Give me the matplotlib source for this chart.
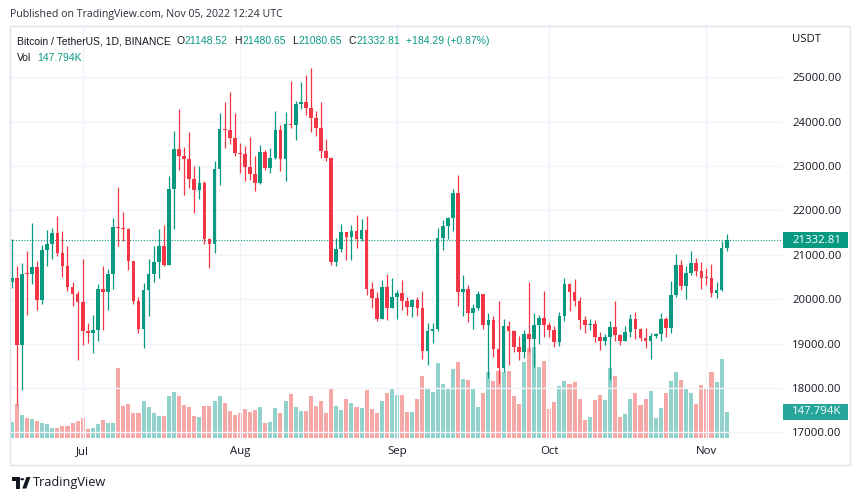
import matplotlib
matplotlib.use("Agg")
import matplotlib.pyplot as plt
import matplotlib.transforms as mtransforms
from matplotlib.patches import Rectangle, Polygon, Circle
import pandas as pd

plt.rcParams['font.family'] = ['Open Sans', 'DejaVu Sans']

# ---------------- data (BTC/USDT 1D, Binance) ----------------
start_date = "2022-06-17"
opens = [20381, 20471, 18970, 20574, 20573, 20723, 19988, 21110, 21237, 21492,
         21038, 20742, 20281, 20123, 19942, 19279, 19252, 19316, 20232, 20175,
         20565, 21624, 21595, 21591, 20862, 19963, 19328, 20212, 20570, 20836,
         21190, 20779, 22485, 23389, 23231, 23164, 22714, 22465, 22609, 21361,
         21239, 22930, 23843, 23804, 23643, 23297, 23269, 22978, 22818, 22622,
         23312, 22954, 23175, 23810, 23151, 23954, 23934, 24403, 24442, 24305,
         24094, 23854, 23342, 23191, 20834, 21140, 21516, 21399, 21529, 21368,
         21559, 20241, 20037, 19555, 20285, 19811, 20050, 20131, 19951, 19832,
         19986, 19812, 18837, 19290, 19329, 21382, 21652, 21836, 22395, 20173,
         20227, 19701, 19803, 20113, 19417, 19538, 18876, 18461, 19402, 19289,
         18920, 18803, 19222, 19110, 19427, 19573, 19431, 19312, 19044, 19623,
         20336, 20160, 19955, 19531, 19417, 19446, 19141, 19051, 19157, 19382,
         19185, 19067, 19268, 19550, 19334, 19139, 19053, 19172, 19208, 19567,
         19345, 20095, 20771, 20295, 20591, 20809, 20627, 20490, 20483, 20151,
         20207, 21148.52]
highs = [21365, 20761, 20815, 21090, 21723, 20873, 21233, 21558, 21614, 21868,
         21540, 21200, 20400, 20179, 20918, 19467, 19647, 20354, 20750, 20675,
         21838, 22527, 21960, 21600, 20868, 20048, 20366, 20900, 21200, 21588,
         21684, 22777, 23800, 24276, 23427, 23757, 22998, 22998, 22666, 21380,
         23112, 24199, 24442, 24668, 24194, 23510, 23459, 23647, 23223, 23472,
         23354, 23400, 24245, 23925, 24226, 24918, 24456, 24888, 25047, 25211,
         24247, 24446, 23600, 23200, 21382, 21700, 21523, 21680, 21900, 21819,
         21886, 20400, 20155, 20433, 20576, 20490, 20208, 20444, 20055, 20000,
         20058, 20180, 19464, 19460, 21600, 21792, 21860, 22488, 22799, 20541,
         20330, 19887, 20189, 20117, 19686, 19634, 19956, 19550, 19500, 19316,
         19180, 19315, 20385, 19688, 19644, 20185, 19484, 19395, 19719, 20475,
         20365, 20456, 20055, 19627, 19560, 19526, 19267, 19226, 19513, 19951,
         19228, 19400, 19676, 19706, 19360, 19346, 19250, 19248, 19700, 19601,
         20415, 21020, 20877, 20750, 21085, 20931, 20845, 20700, 20800, 20393,
         21302, 21480.65]
lows = [20246, 17622, 17960, 19637, 20348, 19770, 19890, 20740, 20906, 20970,
        20500, 20188, 19846, 18626, 18975, 19010, 18781, 19055, 19304, 19767,
        20238, 21189, 21319, 20652, 19901, 19240, 18910, 19616, 20385, 20478,
        20750, 20762, 21579, 22906, 22341, 22500, 21950, 22250, 21250, 20706,
        21042, 22582, 23414, 23502, 23227, 22850, 22654, 22681, 22435, 22586,
        22909, 22844, 23155, 22885, 22665, 23853, 23580, 24296, 24140, 23773,
        23671, 23180, 23111, 20783, 20761, 21069, 20890, 20890, 21145, 21310,
        20107, 19810, 19521, 19550, 19540, 19800, 19565, 19754, 19655, 19600,
        19633, 18649, 18510, 19011, 19297, 21111, 21367, 21545, 19860, 19617,
        19497, 19320, 19748, 19336, 18232, 18711, 18125, 18356, 18531, 18805,
        18629, 18680, 18816, 18471, 19000, 19156, 19160, 18920, 18959, 19503,
        19730, 19853, 19320, 19252, 19310, 19028, 18860, 18965, 18190, 19070,
        18975, 19063, 19160, 19100, 19070, 18900, 18650, 19132, 19070, 19157,
        19243, 20060, 20202, 20000, 20552, 20514, 20237, 20330, 20048, 20031,
        20180, 21080.65]
closes = [20471, 18970, 20574, 20573, 20723, 19987, 21110, 21237, 21492, 21038,
          20742, 20281, 20123, 19942, 19279, 19252, 19316, 20232, 20175, 20565,
          21624, 21595, 21591, 20862, 19963, 19328, 20212, 20570, 20836, 21190,
          20779, 22485, 23389, 23231, 23164, 22714, 22465, 22609, 21361, 21239,
          22930, 23843, 23804, 23643, 23293, 23269, 22978, 22818, 22622, 23312,
          22954, 23175, 23810, 23149, 23954, 23934, 24403, 24442, 24305, 24094,
          23854, 23342, 23191, 20834, 21140, 21516, 21399, 21529, 21368, 21559,
          20241, 20037, 19555, 20285, 19811, 20050, 20131, 19951, 19832, 19986,
          19812, 18837, 19290, 19329, 21382, 21652, 21836, 22395, 20173, 20226,
          19701, 19803, 20113, 19416, 19537, 18876, 18461, 19401, 19289, 18920,
          18803, 19222, 19110, 19427, 19573, 19431, 19312, 19044, 19623, 20336,
          20160, 19955, 19531, 19417, 19446, 19141, 19051, 19157, 19382, 19185,
          19067, 19268, 19550, 19334, 19139, 19053, 19172, 19208, 19567, 19345,
          20095, 20771, 20295, 20591, 20809, 20627, 20490, 20483, 20151, 20207,
          21148.52, 21332.81]
volumes_k = [90, 196, 130, 113, 107, 94, 84, 80, 56, 56,
             69, 65, 82, 96, 113, 50, 56, 77, 100, 86,
             86, 400, 180, 194, 140, 140, 211, 176, 144, 123,
             123, 242, 263, 242, 188, 174, 125, 119, 184, 180,
             211, 238, 201, 153, 132, 144, 163, 148, 157, 174,
             84, 90, 171, 144, 211, 249, 174, 153, 153, 242,
             180, 211, 144, 286, 182, 161, 224, 201, 176, 171,
             274, 167, 140, 209, 259, 278, 245, 245, 148, 148,
             224, 357, 286, 263, 427, 307, 282, 395, 433, 337,
             334, 286, 178, 255, 378, 326, 383, 380, 383, 242,
             192, 437, 514, 523, 404, 441, 167, 205, 295, 326,
             311, 322, 224, 104, 119, 215, 245, 215, 399, 353,
             119, 134, 224, 259, 188, 224, 268, 113, 171, 255,
             326, 380, 330, 286, 255, 192, 303, 282, 376, 320,
             454, 147.794]
price_ticks = [17000, 18000, 19000, 20000, 21000, 22000, 23000, 24000, 25000]
month_names = {7: "Jul", 8: "Aug", 9: "Sep", 10: "Oct", 11: "Nov"}

# ---------------- styling ----------------
UP, DOWN = "#089981", "#f23645"
VUP, VDOWN = (38/255, 166/255, 154/255, 0.5), (239/255, 83/255, 80/255, 0.5)
TXT = "#131722"
GRID = "#f0f3fa"

W, H = 860, 499
def fx(px): return px / W
def fy(py): return 1 - py / H

fig = plt.figure(figsize=(8.6, 4.99), dpi=100)
fig.patch.set_facecolor("white")

rect = [fx(10), fy(440), fx(783) - fx(10), fy(26) - fy(440)]
axv = fig.add_axes(rect)
ax = fig.add_axes(rect, sharex=axv)
ax.patch.set_alpha(0)

n = len(closes)
idx = list(range(n))
dates = pd.date_range(start_date, periods=n, freq="D")

# volume
vcolors = [VUP if c >= o else VDOWN for o, c in zip(opens, closes)]
axv.bar(idx, volumes_k, width=0.8, color=vcolors, linewidth=0)
axv.set_ylim(-13.2, 2367)
axv.axis("off")

# candles
ccolors = [UP if c >= o else DOWN for o, c in zip(opens, closes)]
ax.vlines(idx, lows, highs, colors=ccolors, linewidth=0.9, zorder=3)
bottoms = [min(o, c) for o, c in zip(opens, closes)]
heights = [max(abs(c - o), 22) for o, c in zip(opens, closes)]
ax.bar(idx, heights, bottom=bottoms, width=0.72, color=ccolors, linewidth=0, zorder=4)

ax.set_xlim(-0.335, 152.1)
ax.set_ylim(16831, 26155)

# grid & ticks
month_idx = [i for i, d in enumerate(dates) if d.day == 1]
ax.set_xticks(month_idx)
ax.set_xticklabels([month_names[dates[i].month] for i in month_idx])
ax.set_yticks(price_ticks)
ax.set_yticklabels([f"{p:.2f}" for p in price_ticks])
ax.yaxis.tick_right()
ax.tick_params(axis="y", length=0, pad=6.6, labelsize=8.2, labelcolor=TXT)
ax.tick_params(axis="x", length=0, pad=4.6, labelsize=8.2, labelcolor=TXT)
for lab in ax.get_yticklabels():
    lab.set_horizontalalignment("left")
ax.grid(True, color=GRID, linewidth=1.0, zorder=0)
ax.set_axisbelow(True)
for s in ax.spines.values():
    s.set_visible(False)

# last price dotted line + label
last = closes[-1]
ax.axhline(last, color=UP, linestyle=(0, (1, 1.5)), linewidth=0.8, zorder=2)
bt = mtransforms.blended_transform_factory(ax.transAxes, ax.transData)
pp = (26155 - 16831) / 414.0
ax.add_patch(Rectangle((1.0, last - 8 * pp), 65 / 773, 16 * pp, transform=bt,
                       facecolor=UP, edgecolor="none", clip_on=False, zorder=5))
ax.text(1.0 + 9 / 773, last, f"{last:.2f}", transform=bt, color="white",
        fontsize=8.2, va="center", ha="left", zorder=6, clip_on=False)

# last volume label
bv = mtransforms.blended_transform_factory(axv.transAxes, axv.transData)
vp = (2367 + 13.2) / 414.0
lastv = volumes_k[-1]
axv.add_patch(Rectangle((1.0, lastv - 8 * vp), 65 / 773, 16 * vp, transform=bv,
                        facecolor="#26a69a", edgecolor="none", clip_on=False, zorder=5))
axv.text(1.0 + 9 / 773, lastv, f"{lastv:.3f}K", transform=bv, color="white",
         fontsize=8.2, va="center", ha="left", zorder=6, clip_on=False)

# frame
fig.patches.append(Rectangle((fx(9.5), fy(465)), fx(850) - fx(9.5), fy(26) - fy(465),
                             transform=fig.transFigure, facecolor="none",
                             edgecolor="#e0e3eb", linewidth=1.0))

# texts
fig.text(fx(10), fy(15), "Published on TradingView.com, Nov 05, 2022 12:24 UTC",
         fontsize=7.6, color="#2a2e39", va="center", ha="left")
fig.text(fx(792), fy(40), "USDT", fontsize=8.2, color=TXT, va="center", ha="left")

# legend line, laid out sequentially so pieces never overlap
renderer = fig.canvas.get_renderer()
LEG_FONT = ['Liberation Sans', 'DejaVu Sans']
fs = 7.5
o_, h_, l_, c_ = opens[-1], highs[-1], lows[-1], closes[-1]
chg = c_ - closes[-2]
pieces = [("Bitcoin / TetherUS, 1D, BINANCE", TXT, 6.0),
          ("O", TXT, 0.3), (f"{o_:.2f}", UP, 6.5),
          ("H", TXT, 0.3), (f"{h_:.2f}", UP, 6.5),
          ("L", TXT, 0.3), (f"{l_:.2f}", UP, 6.5),
          ("C", TXT, 0.3), (f"{c_:.2f}", UP, 6.5),
          (f"+{chg:.2f} (+{chg / closes[-2] * 100:.2f}%)", UP, 0)]
xcur = 16.7
for txt, col, gap in pieces:
    t = fig.text(fx(xcur), fy(41.5), txt, fontsize=fs, color=col, va="center",
                 ha="left", family=LEG_FONT)
    bb = t.get_window_extent(renderer)
    xcur += bb.width + gap
t = fig.text(fx(16.7), fy(58), "Vol", fontsize=fs, color=TXT, va="center", family=LEG_FONT)
bb = t.get_window_extent(renderer)
fig.text(fx(16.7 + bb.width + 6), fy(58), f"{lastv:.3f}K", fontsize=fs, color=UP,
         va="center", family=LEG_FONT)

# TradingView logo + text
def P(x, y):
    return (fx(x), fy(y))
fig.patches.append(Polygon([P(12, 477), P(19.5, 477), P(19.5, 488.5), P(15.8, 488.5),
                            P(15.8, 480.5), P(12, 480.5)], closed=True,
                           transform=fig.transFigure, facecolor=TXT, edgecolor="none"))
fig.patches.append(Circle(P(22.2, 479.2), 1.9 / W, transform=fig.transFigure,
                          facecolor=TXT, edgecolor="none"))
fig.patches.append(Polygon([P(26.5, 477), P(30.5, 477), P(26.3, 488.5), P(22.3, 488.5)],
                           closed=True, transform=fig.transFigure,
                           facecolor=TXT, edgecolor="none"))
fig.text(fx(33), fy(482.5), "TradingView", fontsize=9.2, color=TXT, va="center", ha="left")

fig.savefig("out.png", dpi=100, facecolor="white")
